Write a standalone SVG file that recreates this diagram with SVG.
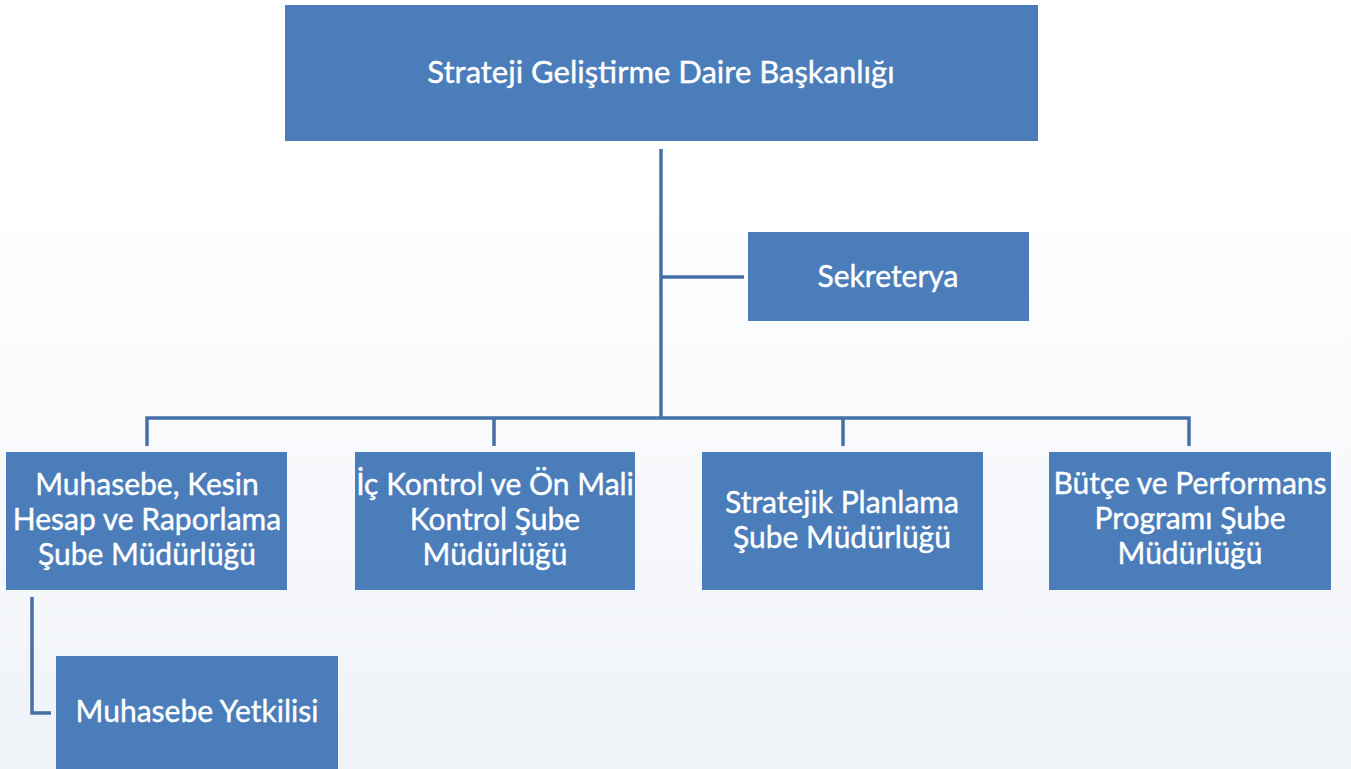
<svg xmlns="http://www.w3.org/2000/svg" width="1351" height="769" viewBox="0 0 1351 769">
<defs>
<linearGradient id="bg" x1="0" y1="0" x2="0" y2="1">
<stop offset="0" stop-color="#ffffff"/>
<stop offset="0.25" stop-color="#ffffff"/>
<stop offset="1" stop-color="#eff2f7"/>
</linearGradient>
<style>
.box{fill:#4a7dba;}
.t{fill:#ffffff;stroke:#ffffff;stroke-width:0.4;font-family:Lato,"Open Sans",sans-serif;font-size:30px;text-anchor:middle;}
.big{font-size:31px;}
.c{fill:none;stroke:#4470a6;stroke-width:3.5;}
</style>
</defs>
<rect x="0" y="0" width="1351" height="769" fill="url(#bg)"/>
<g id="connectors">
<path class="c" d="M661 149 V418"/>
<path class="c" d="M661 277 H744"/>
<path class="c" d="M147 446 V418 H1189 V446"/>
<path class="c" d="M494 418 V446"/>
<path class="c" d="M843 418 V446"/>
<path class="c" d="M32 597 V713 H51"/>
</g>
<g id="node-top">
<rect class="box" x="285" y="5" width="753" height="136"/>
<text class="t big" x="661" y="83">Strateji Geliştirme Daire Başkanlığı</text>
</g>
<g id="node-sekreterya">
<rect class="box" x="748" y="232" width="281" height="89"/>
<text class="t" x="888" y="287">Sekreterya</text>
</g>
<g id="node-muhasebe">
<rect class="box" x="6" y="452" width="281" height="138"/>
<text class="t" x="147" y="495">Muhasebe, Kesin</text>
<text class="t" x="147" y="530">Hesap ve Raporlama</text>
<text class="t" x="147" y="565">Şube Müdürlüğü</text>
</g>
<g id="node-ickontrol">
<rect class="box" x="355" y="452" width="280" height="138"/>
<text class="t" x="495" y="495">İç Kontrol ve Ön Mali</text>
<text class="t" x="495" y="530">Kontrol Şube</text>
<text class="t" x="495" y="565">Müdürlüğü</text>
</g>
<g id="node-stratejik">
<rect class="box" x="702" y="452" width="281" height="138"/>
<text class="t" x="842" y="513">Stratejik Planlama</text>
<text class="t" x="842" y="548">Şube Müdürlüğü</text>
</g>
<g id="node-butce">
<rect class="box" x="1049" y="452" width="282" height="138"/>
<text class="t" x="1190" y="494">Bütçe ve Performans</text>
<text class="t" x="1190" y="529">Programı Şube</text>
<text class="t" x="1190" y="564">Müdürlüğü</text>
</g>
<g id="node-yetkilisi">
<rect class="box" x="56" y="656" width="282" height="113"/>
<text class="t" x="197" y="722">Muhasebe Yetkilisi</text>
</g>
</svg>
